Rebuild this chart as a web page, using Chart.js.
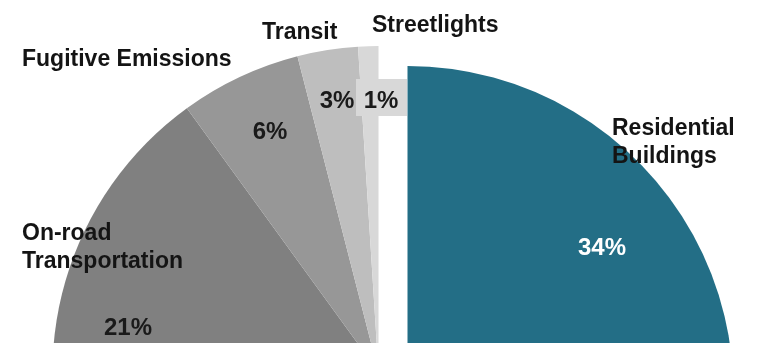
<!DOCTYPE html>
<html>
<head>
<meta charset="utf-8">
<script src="https://cdn.jsdelivr.net/npm/chart.js@4.4.0/dist/chart.umd.min.js"></script>
<style>
  html, body { margin: 0; padding: 0; background: #ffffff; }
  #wrap { position: relative; width: 757px; height: 343px; overflow: hidden; background: #ffffff; }
  #wrap canvas { position: absolute; }
  #resCanvas { left: 29px; top: 20px; }
  #mainCanvas { left: 0; top: 0; }
</style>
</head>
<body>
<div id="wrap">
  <canvas id="resCanvas" width="757" height="744"></canvas>
  <canvas id="mainCanvas" width="757" height="744"></canvas>
</div>
<script>
// ---- data (clockwise from 12 o'clock) ----
const categories = ['Residential Buildings', 'Other sectors', 'On-road Transportation', 'Fugitive Emissions', 'Transit', 'Streetlights'];
const shares = [34, 35, 21, 6, 3, 1];
const shareLabels = ['34%', '', '21%', '6%', '3%', '1%'];
const nameLines = [['Residential', 'Buildings'], [], ['On-road', 'Transportation'], ['Fugitive Emissions'], ['Transit'], ['Streetlights']];

// ---- styles ----
const sliceColors = ['#236E86', 'rgba(0,0,0,0)', '#808080', '#979797', '#BEBEBE', '#D8D8D8'];
const pctColors = ['#ffffff', '#000000', '#1a1a1a', '#1a1a1a', '#1a1a1a', '#1a1a1a'];
const FONT_FAMILY = "'Liberation Sans', Arial, sans-serif";
const PIE_RADIUS = 326;

// ---- label layout (offsets from the pie centre, px) ----
const pctOffsets = [[223.5, -124], null, [-250.5, -44], [-108.5, -240], [-41.5, -271], [2.5, -271]];
const nameOffsets = [[233.5, -243], null, [-356.5, -138], [-356.5, -312.5], [-116.5, -339], [-6.5, -346]];
const NAME_LINE_HEIGHT = 28;
const BOX_INDEX = 5;            // the small slice whose value sits in a shaded box
const boxRect = [-22.5, -293, 51, 37];

const baseOptions = {
  responsive: false,
  animation: false,
  devicePixelRatio: 1,
  radius: PIE_RADIUS,
  layout: { padding: 0 },
  plugins: { legend: { display: false }, tooltip: { enabled: false } },
  elements: { arc: { borderWidth: 0 } }
};

// Residential slice, pulled out of the pie (drawn underneath)
new Chart(document.getElementById('resCanvas'), {
  type: 'pie',
  data: {
    labels: categories,
    datasets: [{
      data: shares,
      backgroundColor: sliceColors.map((c, i) => i === 0 ? c : 'rgba(0,0,0,0)'),
      borderWidth: 0
    }]
  },
  options: baseOptions
});

const labelPlugin = {
  id: 'sliceLabels',
  afterDatasetsDraw(chart) {
    const ctx = chart.ctx;
    const arcs = chart.getDatasetMeta(0).data;
    const cx = arcs[0].x, cy = arcs[0].y;
    ctx.save();
    // shaded box for the smallest slice value
    ctx.fillStyle = sliceColors[BOX_INDEX];
    ctx.fillRect(cx + boxRect[0], cy + boxRect[1], boxRect[2], boxRect[3]);
    // percentage labels
    ctx.textAlign = 'center';
    ctx.textBaseline = 'middle';
    ctx.font = 'bold 24px ' + FONT_FAMILY;
    shareLabels.forEach((t, i) => {
      if (!t || !pctOffsets[i]) return;
      ctx.fillStyle = pctColors[i];
      ctx.fillText(t, cx + pctOffsets[i][0], cy + pctOffsets[i][1]);
    });
    // category labels
    ctx.textAlign = 'left';
    ctx.font = 'bold 23px ' + FONT_FAMILY;
    ctx.fillStyle = '#141414';
    nameLines.forEach((lines, i) => {
      if (!nameOffsets[i]) return;
      lines.forEach((ln, k) => {
        ctx.fillText(ln, cx + nameOffsets[i][0], cy + nameOffsets[i][1] + k * NAME_LINE_HEIGHT);
      });
    });
    ctx.restore();
  }
};

// Remaining slices + labels (drawn on top)
new Chart(document.getElementById('mainCanvas'), {
  type: 'pie',
  data: {
    labels: categories,
    datasets: [{
      data: shares,
      backgroundColor: sliceColors.map((c, i) => i === 0 ? 'rgba(0,0,0,0)' : c),
      borderWidth: 0
    }]
  },
  options: baseOptions,
  plugins: [labelPlugin]
});
</script>
</body>
</html>
